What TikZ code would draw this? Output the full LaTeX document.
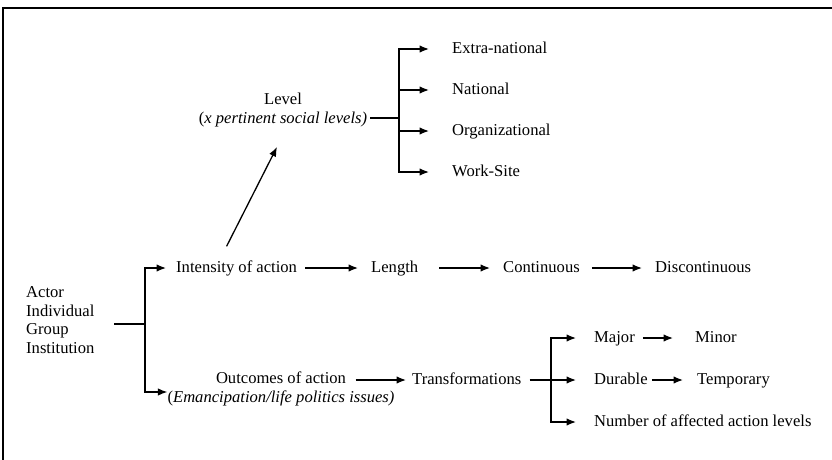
\documentclass[tikz,border=0pt]{standalone}
\usepackage{fontspec}
\setmainfont{Liberation Serif}
\usetikzlibrary{arrows.meta}
\newcommand\lblfont{\fontsize{16.6}{18.4}\selectfont}
\begin{document}
\begin{tikzpicture}[x=1pt,y=-1pt,
  lab/.style={anchor=west,inner sep=0pt,font=\lblfont,text height=11.5pt,text depth=3.5pt},
  blk/.style={inner sep=0pt,font=\lblfont},
  arr/.style={-{Latex[length=9.5pt,width=7.5pt]},line width=1.3pt},
  brk/.style={line width=1.6pt}]
\useasboundingbox (0,0) rectangle (832,460);
\draw[line width=2.4pt] (3,470) -- (3,8) -- (840,8);
% nodes
\node[blk,anchor=west,align=left] (actor) at (26,320) {Actor\\Individual\\Group\\Institution};
\node[lab] (int) at (176,268) {Intensity of action};
\node[lab] (len) at (371,268) {Length};
\node[lab] (cont) at (503,268) {Continuous};
\node[lab] (disc) at (655,268) {Discontinuous};
\node[blk,align=center] (level) at (283,110) {Level\\(\textit{x pertinent social levels)}};
\node[lab] (extra) at (452,49) {Extra-national};
\node[lab] (nat) at (452,90) {National};
\node[lab] (org) at (452,131) {Organizational};
\node[lab] (work) at (452,172) {Work-Site};
\node[blk,align=center] (outc) at (281,389) {Outcomes of action\\(\textit{Emancipation/life politics issues)}};
\node[lab] (trans) at (412,380) {Transformations};
\node[lab] (major) at (594,338) {Major};
\node[lab] (minor) at (695,338) {Minor};
\node[lab] (dur) at (594,380) {Durable};
\node[lab] (temp) at (697,380) {Temporary};
\node[lab] (num) at (594,422) {Number of affected action levels};
% junctions
\coordinate (actj) at (114,324);
\coordinate (b1) at (145,324);
\coordinate (lvj) at (370,118);
\coordinate (lvb) at (399,118);
\coordinate (trj) at (551,380);
% actor bracket
\draw[brk] (actj) -- (b1);
\draw[arr] (b1) |- ([xshift=-10pt]int.west);
\draw[arr] (b1) |- ([yshift=-3pt]outc.west);
% main chain
\draw[arr] ([xshift=8pt]int.east) -- ([xshift=-13pt]len.west);
\draw[arr] ([xshift=21pt]len.east) -- ([xshift=-13pt]cont.west);
\draw[arr] ([xshift=12pt]cont.east) -- ([xshift=-13pt]disc.west);
% to level
\draw[arr] ([xshift=-10pt,yshift=14pt]int.north) -- ([xshift=-6pt,yshift=-20pt]level.south);
% level bracket
\draw[brk] (lvj) -- (lvb);
\draw[arr] (lvb) |- ([xshift=-23pt]extra.west);
\draw[arr] (lvb) |- ([xshift=-23pt]nat.west);
\draw[arr] (lvb) |- ([xshift=-23pt]org.west);
\draw[arr] (lvb) |- ([xshift=-23pt]work.west);
% outcomes chain
\draw[arr] ([xshift=-39pt]trans.west -| outc.east) -- ([xshift=-6pt]trans.west);
\draw[brk] ([xshift=8pt]trans.east) -- (trj);
\draw[arr] (trj) |- ([xshift=-18pt]major.west);
\draw[arr] (trj) -- ([xshift=-18pt]dur.west);
\draw[arr] (trj) |- ([xshift=-18pt]num.west);
\draw[arr] ([xshift=8pt]major.east) -- ([xshift=-22pt]minor.west);
\draw[arr] ([xshift=4pt]dur.east) -- ([xshift=-14pt]temp.west);
\end{tikzpicture}
\end{document}
